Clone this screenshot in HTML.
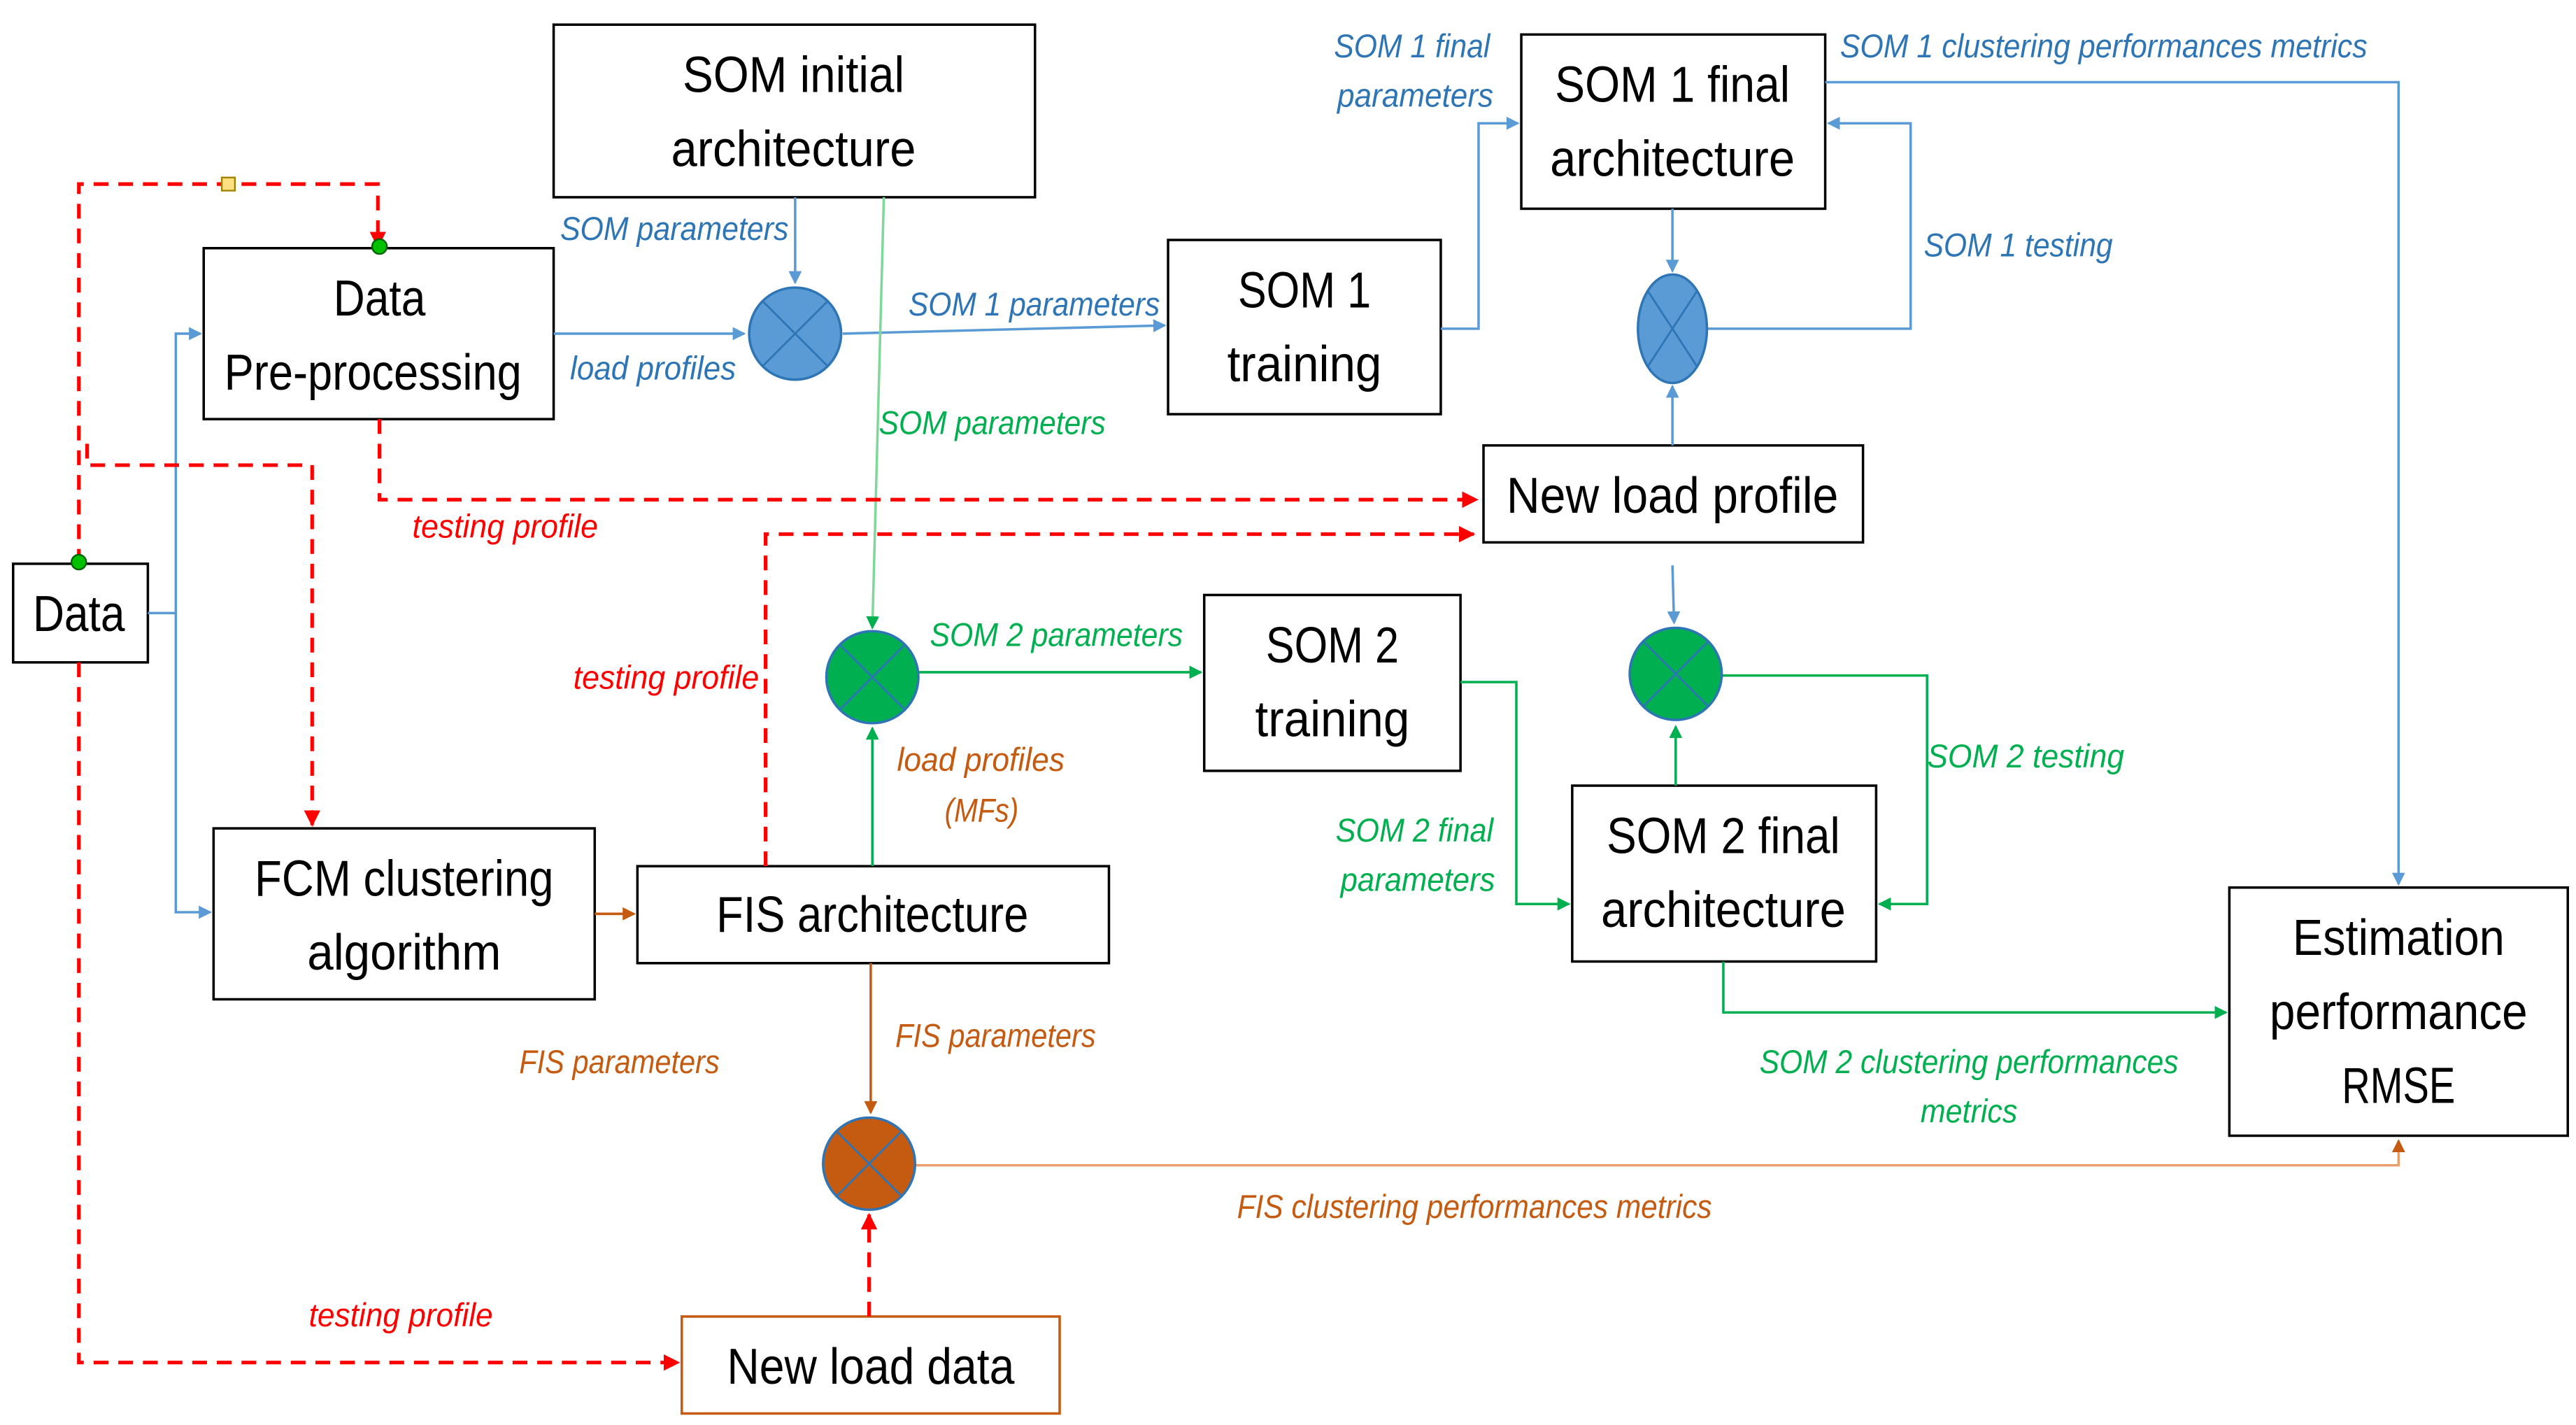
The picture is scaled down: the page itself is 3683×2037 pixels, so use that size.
<!DOCTYPE html>
<html><head><meta charset="utf-8"><style>
html,body{margin:0;padding:0;background:#fff}
svg{display:block}
text{font-family:"Liberation Sans Narrow","Liberation Sans",sans-serif}
.bx{font-size:31px;fill:#000;text-anchor:middle}
.lb{font-size:20px;font-style:italic}
.b{fill:#2e75b6}.g{fill:#00b050}.o{fill:#c55a11}.r{fill:#ff0000}
</style></head><body>
<svg width="3683" height="2037" viewBox="0 0 1568 867" preserveAspectRatio="none" xmlns="http://www.w3.org/2000/svg">
<defs>
<marker id="ab" markerWidth="8" markerHeight="8" refX="7" refY="4" orient="auto" markerUnits="userSpaceOnUse"><path d="M0,0L8,4L0,8z" fill="#5b9bd5"/></marker>
<marker id="ag" markerWidth="8" markerHeight="8" refX="7" refY="4" orient="auto" markerUnits="userSpaceOnUse"><path d="M0,0L8,4L0,8z" fill="#00b050"/></marker>
<marker id="ao" markerWidth="8" markerHeight="8" refX="7" refY="4" orient="auto" markerUnits="userSpaceOnUse"><path d="M0,0L8,4L0,8z" fill="#c55a11"/></marker>
<marker id="ar" markerWidth="10" markerHeight="10" refX="9" refY="5" orient="auto" markerUnits="userSpaceOnUse"><path d="M0,0L10,5L0,10z" fill="#ff0000"/></marker>
</defs>
<g fill="none" stroke="#000" stroke-width="1.5">
<rect x="337" y="15" width="293" height="105"/>
<rect x="124" y="151" width="213" height="104"/>
<rect x="8" y="343" width="82" height="60"/>
<rect x="130" y="504" width="232" height="104"/>
<rect x="388" y="527" width="287" height="59"/>
<rect x="711" y="146" width="166" height="106"/>
<rect x="926" y="21" width="185" height="106"/>
<rect x="903" y="271" width="231" height="59"/>
<rect x="733" y="362" width="156" height="107"/>
<rect x="957" y="478" width="185" height="107"/>
<rect x="1357" y="540" width="206" height="151"/>
<rect x="415" y="801" width="230" height="59" stroke="#c55a11"/>
</g>
<g fill="none" stroke="#5b9bd5" stroke-width="1.5">
<path d="M90,373H107V203H122" marker-end="url(#ab)"/>
<path d="M107,373V555H128" marker-end="url(#ab)"/>
<path d="M337,203H453" marker-end="url(#ab)"/>
<path d="M484,120V172" marker-end="url(#ab)"/>
<path d="M513,203L709,198" marker-end="url(#ab)"/>
<path d="M877,200H900V75H924" marker-end="url(#ab)"/>
<path d="M1018,127V165" marker-end="url(#ab)"/>
<path d="M1039,200H1163V75H1113" marker-end="url(#ab)"/>
<path d="M1018,271V235" marker-end="url(#ab)"/>
<path d="M1111,50H1460V538" marker-end="url(#ab)"/>
<path d="M1018,344L1019,379" marker-end="url(#ab)"/>
</g>
<g fill="none" stroke="#00b050" stroke-width="1.5">
<path d="M538,120L531,382" marker-end="url(#ag)" stroke="#7fd89a"/>
<path d="M531,527V443" marker-end="url(#ag)"/>
<path d="M559,409H731" marker-end="url(#ag)"/>
<path d="M889,415H923V550H955" marker-end="url(#ag)"/>
<path d="M1048,411H1173V550H1144" marker-end="url(#ag)"/>
<path d="M1020,478V442" marker-end="url(#ag)"/>
<path d="M1049,585V616H1355" marker-end="url(#ag)"/>
</g>
<g fill="none" stroke="#c55a11" stroke-width="1.5">
<path d="M362,556H386" marker-end="url(#ao)"/>
<path d="M530,586V677" marker-end="url(#ao)"/>
<path d="M557,709H1460V694" marker-end="url(#ao)" stroke="#e8a070"/>
</g>
<g fill="none" stroke="#ff0000" stroke-width="2.2" stroke-dasharray="9,6">
<path d="M48,343V112H230V150" marker-end="url(#ar)"/>
<path d="M53,270V283H190V502" marker-end="url(#ar)"/>
<path d="M231,255V304H899" marker-end="url(#ar)"/>
<path d="M466,527V325H897" marker-end="url(#ar)"/>
<path d="M48,403V829H413" marker-end="url(#ar)"/>
<path d="M529,801V739" marker-end="url(#ar)"/>
</g>
<rect x="135" y="108" width="8" height="8" fill="#ffe080" stroke="#a08000"/>
<circle cx="231" cy="150" r="4.5" fill="#00c000" stroke="#006000"/>
<circle cx="48" cy="342" r="4.5" fill="#00c000" stroke="#006000"/>
<g stroke-width="1.5">
<circle cx="484" cy="203" r="28" fill="#5b9bd5" stroke="#2e75b6"/>
<ellipse cx="1018" cy="200" rx="21" ry="33" fill="#5b9bd5" stroke="#2e75b6"/>
<circle cx="531" cy="412" r="28" fill="#00b050" stroke="#2e75b6"/>
<circle cx="1020" cy="410" r="28" fill="#00b050" stroke="#2e75b6"/>
<circle cx="529" cy="708" r="28" fill="#c55a11" stroke="#2e75b6"/>
</g>
<g stroke="#2e75b6" stroke-width="1.2">
<path d="M464,183L504,223M504,183L464,223"/>
<path d="M1003,177L1033,223M1033,177L1003,223"/>
<path d="M511,392L551,432M551,392L511,432"/>
<path d="M1000,390L1040,430M1040,390L1000,430"/>
<path d="M509,688L549,728M549,688L509,728"/>
</g>
<g lengthAdjust="spacingAndGlyphs">
<text class="bx" x="483" y="56" textLength="135" lengthAdjust="spacingAndGlyphs">SOM initial</text>
<text class="bx" x="483" y="101" textLength="149" lengthAdjust="spacingAndGlyphs">architecture</text>
<text class="bx" x="231" y="192" textLength="56" lengthAdjust="spacingAndGlyphs">Data</text>
<text class="bx" x="227" y="237" textLength="181" lengthAdjust="spacingAndGlyphs">Pre-processing</text>
<text class="bx" x="48" y="384" textLength="56" lengthAdjust="spacingAndGlyphs">Data</text>
<text class="bx" x="246" y="545" textLength="182" lengthAdjust="spacingAndGlyphs">FCM clustering</text>
<text class="bx" x="246" y="590" textLength="118" lengthAdjust="spacingAndGlyphs">algorithm</text>
<text class="bx" x="531" y="567" textLength="190" lengthAdjust="spacingAndGlyphs">FIS architecture</text>
<text class="bx" x="794" y="187" textLength="81" lengthAdjust="spacingAndGlyphs">SOM 1</text>
<text class="bx" x="794" y="232" textLength="94" lengthAdjust="spacingAndGlyphs">training</text>
<text class="bx" x="1018" y="62" textLength="143" lengthAdjust="spacingAndGlyphs">SOM 1 final</text>
<text class="bx" x="1018" y="107" textLength="149" lengthAdjust="spacingAndGlyphs">architecture</text>
<text class="bx" x="1018" y="312" textLength="202" lengthAdjust="spacingAndGlyphs">New load profile</text>
<text class="bx" x="811" y="403" textLength="81" lengthAdjust="spacingAndGlyphs">SOM 2</text>
<text class="bx" x="811" y="448" textLength="94" lengthAdjust="spacingAndGlyphs">training</text>
<text class="bx" x="1049" y="519" textLength="142" lengthAdjust="spacingAndGlyphs">SOM 2 final</text>
<text class="bx" x="1049" y="564" textLength="149" lengthAdjust="spacingAndGlyphs">architecture</text>
<text class="bx" x="1460" y="581" textLength="129" lengthAdjust="spacingAndGlyphs">Estimation</text>
<text class="bx" x="1460" y="626" textLength="157" lengthAdjust="spacingAndGlyphs">performance</text>
<text class="bx" x="1460" y="671" textLength="69" lengthAdjust="spacingAndGlyphs">RMSE</text>
<text class="bx" x="530" y="842" textLength="175" lengthAdjust="spacingAndGlyphs">New load data</text>
<text class="lb b" x="341" y="146" textLength="139" lengthAdjust="spacingAndGlyphs">SOM parameters</text>
<text class="lb b" x="347" y="231" textLength="101" lengthAdjust="spacingAndGlyphs">load profiles</text>
<text class="lb b" x="553" y="192" textLength="153" lengthAdjust="spacingAndGlyphs">SOM 1 parameters</text>
<text class="lb b" x="812" y="35" textLength="95" lengthAdjust="spacingAndGlyphs">SOM 1 final</text>
<text class="lb b" x="814" y="65" textLength="95" lengthAdjust="spacingAndGlyphs">parameters</text>
<text class="lb b" x="1120" y="35" textLength="321" lengthAdjust="spacingAndGlyphs">SOM 1 clustering performances metrics</text>
<text class="lb b" x="1171" y="156" textLength="115" lengthAdjust="spacingAndGlyphs">SOM 1 testing</text>
<text class="lb g" x="535" y="264" textLength="138" lengthAdjust="spacingAndGlyphs">SOM parameters</text>
<text class="lb g" x="566" y="393" textLength="154" lengthAdjust="spacingAndGlyphs">SOM 2 parameters</text>
<text class="lb g" x="1173" y="467" textLength="120" lengthAdjust="spacingAndGlyphs">SOM  2 testing</text>
<text class="lb g" x="813" y="512" textLength="96" lengthAdjust="spacingAndGlyphs">SOM 2 final</text>
<text class="lb g" x="816" y="542" textLength="94" lengthAdjust="spacingAndGlyphs">parameters</text>
<text class="lb g" x="1071" y="653" textLength="255" lengthAdjust="spacingAndGlyphs">SOM 2 clustering performances</text>
<text class="lb g" x="1169" y="683" textLength="59" lengthAdjust="spacingAndGlyphs">metrics</text>
<text class="lb o" x="546" y="469" textLength="102" lengthAdjust="spacingAndGlyphs">load profiles</text>
<text class="lb o" x="575" y="500" textLength="45" lengthAdjust="spacingAndGlyphs">(MFs)</text>
<text class="lb o" x="545" y="637" textLength="122" lengthAdjust="spacingAndGlyphs">FIS parameters</text>
<text class="lb o" x="316" y="653" textLength="122" lengthAdjust="spacingAndGlyphs">FIS parameters</text>
<text class="lb o" x="753" y="741" textLength="289" lengthAdjust="spacingAndGlyphs">FIS clustering performances metrics</text>
<text class="lb r" x="251" y="327" textLength="113" lengthAdjust="spacingAndGlyphs">testing profile</text>
<text class="lb r" x="349" y="419" textLength="113" lengthAdjust="spacingAndGlyphs">testing profile</text>
<text class="lb r" x="188" y="807" textLength="112" lengthAdjust="spacingAndGlyphs">testing profile</text>
</g>
</svg>
</body></html>
